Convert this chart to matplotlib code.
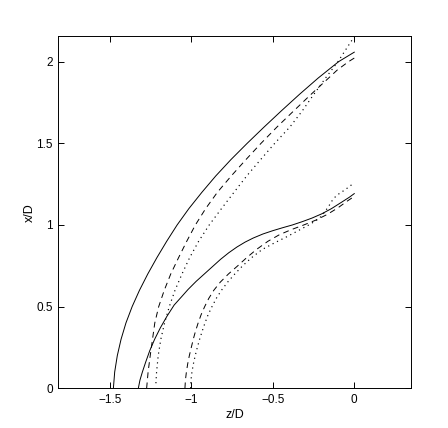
import matplotlib
matplotlib.use("Agg")
import matplotlib.pyplot as plt

# ---- data (z/D, x/D) ----
outer_solid_x = [0.0, 0.1, 0.2, 0.3, 0.4, 0.5, 0.6, 0.7, 0.8, 0.9, 1.0,
                 1.1, 1.2, 1.3, 1.4, 1.5, 1.6, 1.7, 1.8, 1.9, 2.0, 2.058]
outer_solid_z = [-1.478, -1.470, -1.454, -1.431, -1.401, -1.363, -1.318, -1.267, -1.211, -1.151, -1.087,
                 -1.015, -0.935, -0.850, -0.757, -0.657, -0.553, -0.446, -0.336, -0.221, -0.096, 0.0]

outer_dash_x = [0.0, 0.1, 0.2, 0.3, 0.4, 0.5, 0.6, 0.7, 0.8, 0.9, 1.0,
                1.1, 1.2, 1.3, 1.4, 1.5, 1.6, 1.7, 1.8, 1.9, 1.95, 2.0, 2.022]
outer_dash_z = [-1.274, -1.265, -1.252, -1.238, -1.224, -1.200, -1.166, -1.126, -1.078, -1.028, -0.975,
                -0.912, -0.840, -0.755, -0.665, -0.572, -0.474, -0.370, -0.265, -0.157, -0.103, -0.035, 0.0]

outer_dot_x = [0.031, 0.1, 0.2, 0.3, 0.4, 0.5, 0.6, 0.7, 0.8, 0.9, 1.0,
               1.1, 1.2, 1.3, 1.4, 1.5, 1.6, 1.7, 1.8, 1.9, 2.0, 2.1, 2.153]
outer_dot_z = [-1.217, -1.213, -1.203, -1.187, -1.164, -1.135, -1.100, -1.057, -1.010, -0.955, -0.890,
               -0.815, -0.738, -0.660, -0.575, -0.488, -0.395, -0.318, -0.248, -0.176, -0.100, -0.035, 0.0]

inner_solid_z = [-1.325, -1.315, -1.300, -1.280, -1.255, -1.225, -1.190, -1.150, -1.105, -1.060,
                 -1.020, -0.970, -0.920, -0.870, -0.820, -0.770, -0.720, -0.670, -0.620, -0.560,
                 -0.500, -0.440, -0.380, -0.320, -0.260, -0.200, -0.140, -0.080, -0.030, 0.0]
inner_solid_x = [0.000, 0.050, 0.100, 0.160, 0.230, 0.300, 0.370, 0.440, 0.510, 0.560,
                 0.605, 0.655, 0.700, 0.745, 0.790, 0.830, 0.865, 0.895, 0.920, 0.945,
                 0.965, 0.983, 1.000, 1.020, 1.042, 1.068, 1.100, 1.138, 1.170, 1.192]

inner_dash_x = [0.0, 0.05, 0.10, 0.15, 0.20, 0.25, 0.30, 0.35, 0.40, 0.45, 0.50,
                0.55, 0.60, 0.65, 0.70, 0.75, 0.80, 0.85, 0.90, 0.94, 0.97, 1.00,
                1.03, 1.065, 1.105, 1.145, 1.175]
inner_dash_z = [-1.039, -1.036, -1.030, -1.022, -1.012, -1.000, -0.988, -0.974, -0.958, -0.940, -0.918,
                -0.893, -0.862, -0.822, -0.772, -0.715, -0.660, -0.600, -0.530, -0.460, -0.390, -0.310,
                -0.235, -0.165, -0.100, -0.045, 0.0]

inner_dot_x = [0.0, 0.05, 0.10, 0.15, 0.20, 0.25, 0.30, 0.35, 0.40, 0.45, 0.50,
               0.55, 0.60, 0.65, 0.70, 0.75, 0.80, 0.85, 0.89, 0.93, 0.97, 1.005,
               1.04, 1.075, 1.11, 1.15, 1.18, 1.21, 1.235, 1.26]
inner_dot_z = [-1.004, -1.002, -0.996, -0.987, -0.976, -0.963, -0.949, -0.933, -0.916, -0.897, -0.873,
               -0.847, -0.815, -0.777, -0.733, -0.685, -0.630, -0.565, -0.490, -0.410, -0.335, -0.270,
               -0.215, -0.185, -0.160, -0.135, -0.110, -0.065, -0.030, 0.0]

xticks = [-1.5, -1.0, -0.5, 0.0]
xtick_labels = ["\u22121.5", "\u22121", "\u22120.5", "0"]
yticks = [0.0, 0.5, 1.0, 1.5, 2.0]
ytick_labels = ["0", "0.5", "1", "1.5", "2"]

plt.rcParams['font.family'] = ['Liberation Sans', 'DejaVu Sans']

fig = plt.figure(figsize=(4.48, 4.28), dpi=100)
ax = fig.add_axes([58.3 / 448, 1 - 388.3 / 428, 352.2 / 448, 352.3 / 428])

lw = 0.7
dash = (0, (6.0, 4.5))
dot = (0, (1.0, 3.2))
ax.plot(outer_solid_z, outer_solid_x, color='black', lw=lw, linestyle='-')
ax.plot(outer_dash_z, outer_dash_x, color='black', lw=lw, linestyle=dash)
ax.plot(outer_dot_z, outer_dot_x, color='black', lw=0.85, linestyle=dot)
ax.plot(inner_solid_z, inner_solid_x, color='black', lw=lw, linestyle='-')
ax.plot(inner_dash_z, inner_dash_x, color='black', lw=lw, linestyle=dash)
ax.plot(inner_dot_z, inner_dot_x, color='black', lw=0.85, linestyle=dot)

ax.set_xlim(-1.816, 0.345)
ax.set_ylim(0, 2.157)
ax.set_xticks(xticks)
ax.set_xticklabels(xtick_labels)
ax.set_yticks(yticks)
ax.set_yticklabels(ytick_labels)
ax.tick_params(direction='in', top=True, right=True, length=4, width=0.7,
               labelsize=8.5, pad=4)
for s in ax.spines.values():
    s.set_linewidth(0.7)

ax.set_xlabel("z/D", fontsize=9, labelpad=2)
ax.set_ylabel("x/D", fontsize=9, labelpad=0)

fig.savefig("out.png", dpi=100)
